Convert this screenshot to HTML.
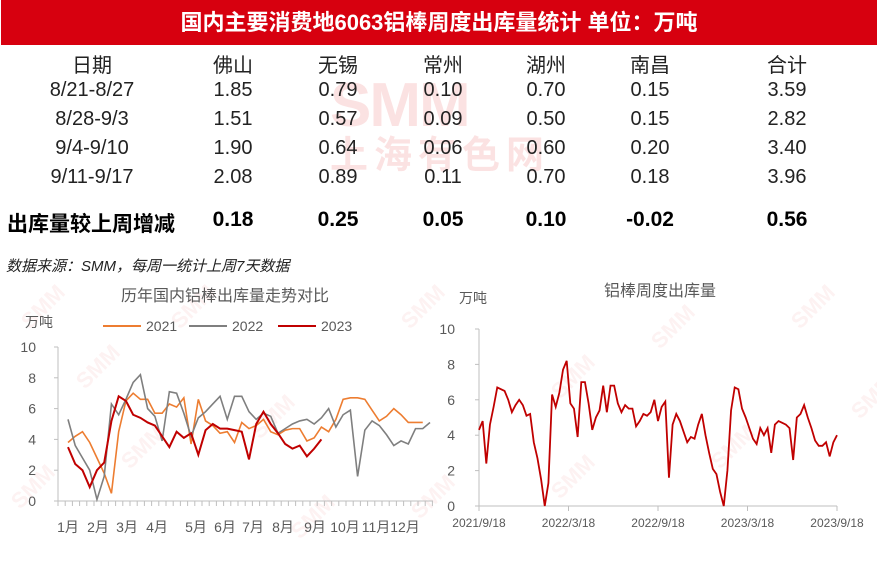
<!DOCTYPE html>
<html><head><meta charset="utf-8">
<style>
body{margin:0;width:877px;height:570px;background:#fff;overflow:hidden;font-family:"Liberation Sans","Noto Sans CJK SC",sans-serif;position:relative}
.abs{position:absolute}
.hdr{left:1px;top:0;width:876px;height:45px;background:#d7000f;color:#fff;font-weight:bold;font-size:22px;line-height:45px;text-align:center}
.c{position:absolute;transform:translateX(-50%);white-space:nowrap;font-size:20px;color:#222}
.b{font-weight:bold;font-size:21px;color:#000}
</style></head><body>
<div class="abs hdr">国内主要消费地6063铝棒周度出库量统计 单位：万吨</div>
<div class="abs" style="left:330px;top:78px;color:rgba(230,60,60,0.15);font-weight:bold;font-size:62px;line-height:56px;letter-spacing:-2px">SMM<div style="font-size:38px;letter-spacing:6px;line-height:44px">上海有色网</div></div>
<div id="table"></div>
<div class="abs" style="left:6px;top:255px;font-size:15px;font-style:italic;color:#222">数据来源：SMM，每周一统计上周7天数据</div>
<svg class="abs" style="left:0;top:0" width="877" height="570" id="svg"></svg>
<script>
const tHead=["日期","佛山","无锡","常州","湖州","南昌","合计"];
const tRows=[["8/21-8/27","1.85","0.79","0.10","0.70","0.15","3.59"],["8/28-9/3","1.51","0.57","0.09","0.50","0.15","2.82"],["9/4-9/10","1.90","0.64","0.06","0.60","0.20","3.40"],["9/11-9/17","2.08","0.89","0.11","0.70","0.18","3.96"]];
const tDelta=["出库量较上周增减","0.18","0.25","0.05","0.10","-0.02","0.56"];
const colX=[92,233,338,443,546,650,787];
const tb=document.getElementById('table');
function cell(txt,x,y,cls,name){const d=document.createElement('div');d.className='c '+(cls||'');d.style.left=x+'px';d.style.top=y+'px';d.textContent=txt;


tb.appendChild(d);}
tHead.forEach((h,i)=>cell(h,colX[i],49,'','table-header-cell'));
tRows.forEach((r,j)=>r.forEach((v,i)=>cell(v,colX[i],79+j*29,'','table-cell')));
tDelta.forEach((v,i)=>cell(v,i==0?91:colX[i],208,'b','delta-cell'));

const s2021=[3.8,4.2,4.5,3.8,2.8,1.8,0.5,4.5,6.5,7.0,6.6,6.6,5.7,5.7,6.3,6.1,6.7,3.7,6.6,5.2,4.9,4.4,4.5,3.8,5.1,4.7,4.9,5.3,4.5,4.3,4.6,4.7,4.7,3.9,4.1,4.8,4.5,5.3,6.6,6.7,6.7,6.6,5.9,5.2,5.5,6.0,5.6,5.1,5.1,5.1];
const s2022=[5.3,3.6,2.8,2.0,0.1,1.6,6.3,5.6,6.6,7.7,8.2,6.0,5.5,3.9,7.1,7.0,5.7,4.2,5.4,5.8,6.3,6.8,5.3,6.8,6.8,5.8,5.3,5.7,5.5,4.4,4.7,5.0,5.2,5.3,5.0,5.4,6.0,4.8,5.6,5.9,1.6,4.6,5.2,4.9,4.3,3.6,3.9,3.7,4.7,4.7,5.1];
const s2023=[3.5,2.4,2.0,0.9,2.0,2.5,5.2,6.8,6.5,5.6,5.4,5.1,4.9,4.2,3.5,4.5,4.1,4.4,3.0,4.6,5.0,4.7,4.7,4.6,4.5,2.7,5.0,5.8,5.0,4.4,3.7,3.4,3.6,2.9,3.4,4.0];
const months=["1月","2月","3月","4月","5月","6月","7月","8月","9月","10月","11月","12月"];
const monthX=[68,98,127,157,196,225,253,283,315,345,376,405];
const yTicks=[0,2,4,6,8,10];
const weekly=[4.3,4.8,2.4,4.6,5.6,6.7,6.6,6.5,6.0,5.3,5.7,6.0,5.7,5.1,5.2,3.6,2.7,1.5,0,1.3,6.3,5.6,6.4,7.7,8.2,5.8,5.5,3.9,7.0,7.0,5.8,4.3,5.0,5.4,6.8,5.3,6.8,6.8,5.8,5.3,5.7,5.5,5.5,4.5,4.8,5.2,5.1,5.3,6.0,4.8,5.6,5.9,1.6,4.6,5.2,4.8,4.2,3.6,3.9,3.8,4.6,5.2,4.0,3.0,2.1,1.8,0.8,0,2.0,5.4,6.7,6.6,5.5,5.0,4.4,3.8,3.5,4.4,4.0,4.4,3.0,4.6,4.8,4.7,4.6,4.4,2.6,5.0,5.2,5.7,5.0,4.4,3.7,3.4,3.4,3.6,2.8,3.6,4.0];
const dateLabels=["2021/9/18","2022/3/18","2022/9/18","2023/3/18","2023/9/18"];

const svg=document.getElementById('svg');const NS='http://www.w3.org/2000/svg';
function el(t,a,txt){const e=document.createElementNS(NS,t);for(const k in a)e.setAttribute(k,a[k]);if(txt!=null)e.textContent=txt;svg.appendChild(e);return e;}
[[30,330],[85,390],[180,330],[260,440],[410,330],[560,400],[660,350],[800,330],[860,420],[300,540],[560,500],[420,520],[130,470],[20,510],[720,470]].forEach(p=>{
const w=el('text',{x:p[0],y:p[1],'font-size':22,'font-weight':'bold',fill:'rgba(235,90,90,0.08)',transform:`rotate(-45 ${p[0]} ${p[1]})`},'SMM');

});

const L={x0:58,x1:433,y0:501,y1:347,px0:68,px1:430};
const ly=v=>L.y0-(v/10)*(L.y0-L.y1);
const nW=Math.max(s2021.length,s2022.length)-1;
const lx=i=>L.px0+i*(L.px1-L.px0)/nW;
let t=el('text',{x:225,y:301,'text-anchor':'middle','font-size':16,fill:'#595959'},'历年国内铝棒出库量走势对比');


t=el('text',{x:25,y:327,'font-size':14,fill:'#595959'},'万吨');


el('line',{x1:L.x0,y1:L.y1,x2:L.x0,y2:L.y0,stroke:'#bfbfbf'});
el('line',{x1:L.x0,y1:L.y0,x2:L.x1,y2:L.y0,stroke:'#bfbfbf'});
yTicks.forEach(v=>{el('line',{x1:L.x0-4,x2:L.x0,y1:ly(v),y2:ly(v),stroke:'#bfbfbf'});
const tt=el('text',{x:36,y:ly(v)+5,'text-anchor':'end','font-size':14,fill:'#595959'},v);

});
for(let x=L.x0;x<=L.x1+0.5;x+=7.2)el('line',{x1:x,x2:x,y1:L.y0,y2:L.y0+5,stroke:'#bfbfbf'});
months.forEach((m,i)=>{const tt=el('text',{x:monthX[i],y:532,'text-anchor':'middle','font-size':14,fill:'#595959'},m);

});
const series=[[s2021,'#ed7d31','2021',103],[s2022,'#7f7f7f','2022',189],[s2023,'#c00000','2023',278]];
series.forEach(s=>{const p=el('polyline',{points:s[0].map((v,i)=>lx(i)+','+ly(v)).join(' '),fill:'none',stroke:s[1],'stroke-width':s[2]=='2023'?2:1.6});


const l=el('line',{x1:s[3],x2:s[3]+38,y1:326,y2:326,stroke:s[1],'stroke-width':2});


const tt=el('text',{x:s[3]+43,y:331,'font-size':14,fill:'#595959'},s[2]);

});

const R={x0:479,x1:837,y0:506,y1:329};
const ry=v=>R.y0-(v/10)*(R.y0-R.y1);
const rx=i=>R.x0+i*(R.x1-R.x0)/(weekly.length-1);
t=el('text',{x:660,y:296,'text-anchor':'middle','font-size':16,fill:'#595959'},'铝棒周度出库量');


t=el('text',{x:459,y:303,'font-size':14,fill:'#595959'},'万吨');


el('line',{x1:R.x0,y1:R.y1,x2:R.x0,y2:R.y0,stroke:'#bfbfbf'});
el('line',{x1:R.x0,y1:R.y0,x2:R.x1,y2:R.y0,stroke:'#bfbfbf'});
yTicks.forEach(v=>{el('line',{x1:R.x0-4,x2:R.x0,y1:ry(v),y2:ry(v),stroke:'#bfbfbf'});
const tt=el('text',{x:455,y:ry(v)+5,'text-anchor':'end','font-size':14,fill:'#595959'},v);

});
dateLabels.forEach((d,i)=>{const x=R.x0+i*(R.x1-R.x0)/4;el('line',{x1:x,x2:x,y1:R.y0,y2:R.y0+5,stroke:'#bfbfbf'});
const tt=el('text',{x:x,y:527,'text-anchor':'middle','font-size':12,fill:'#595959'},d);

});
const pr=el('polyline',{points:weekly.map((v,i)=>rx(i)+','+ry(v)).join(' '),fill:'none',stroke:'#c00000','stroke-width':1.8});


</script>
</body></html>
